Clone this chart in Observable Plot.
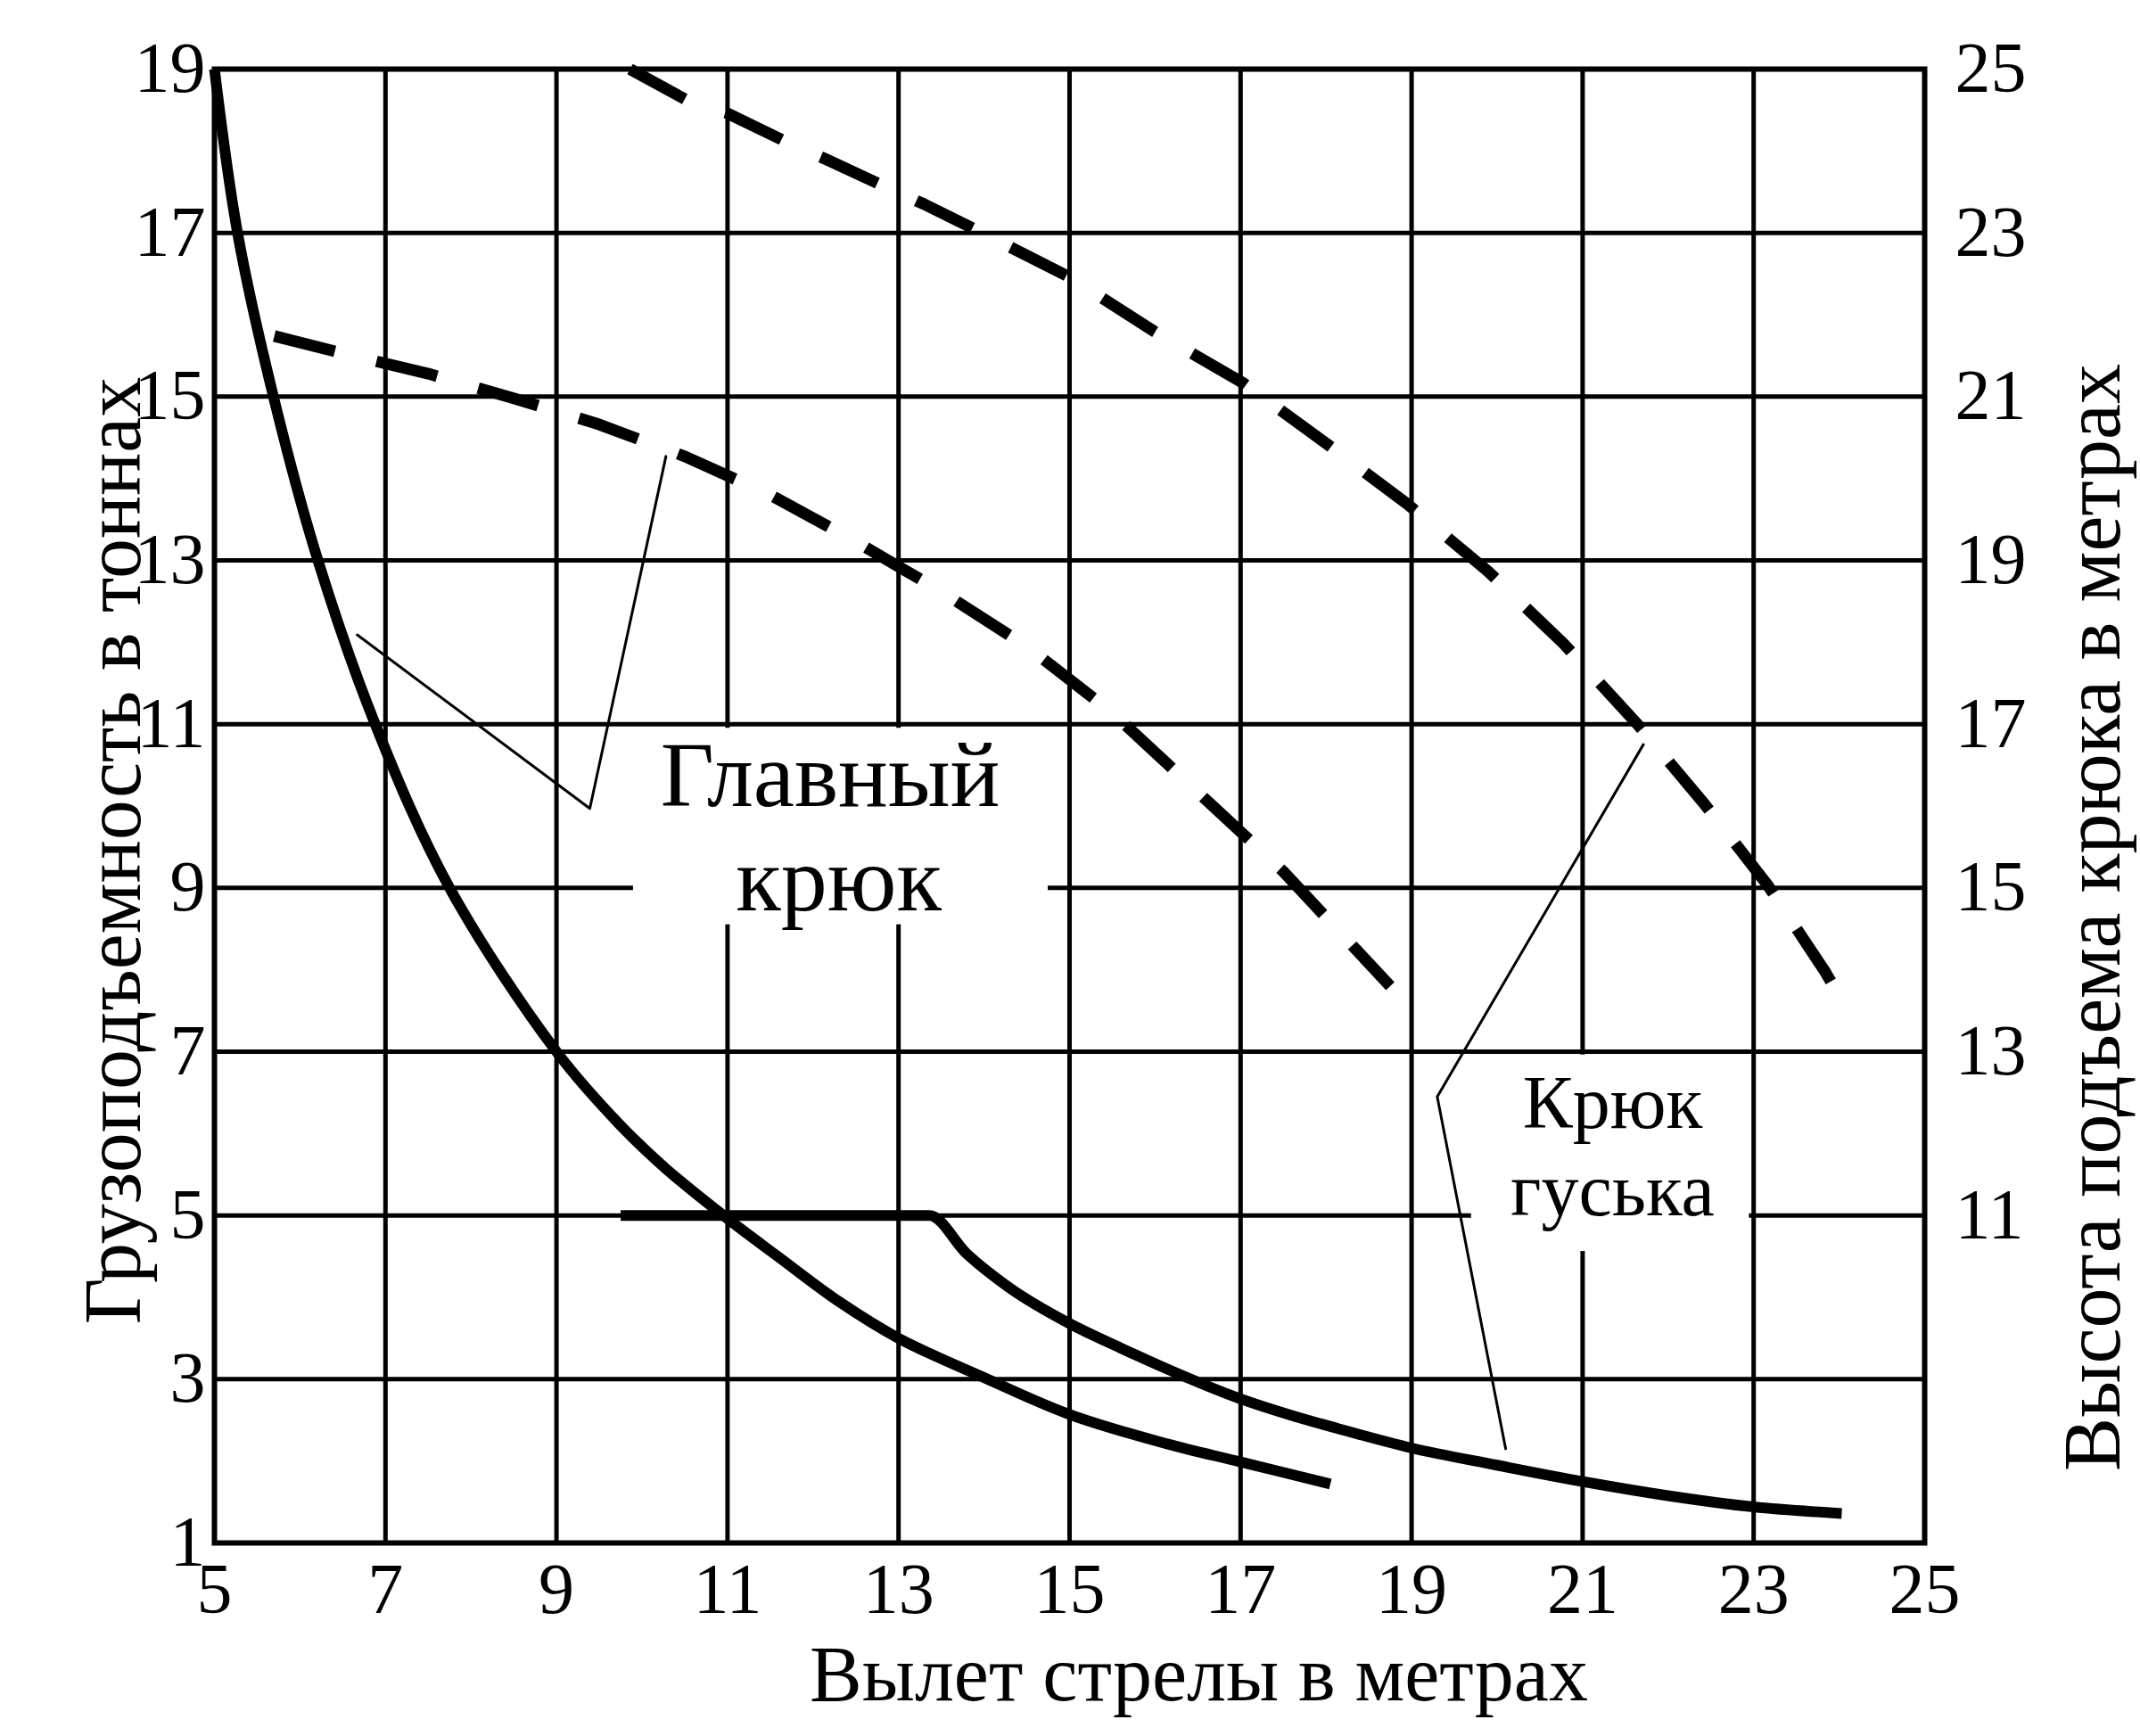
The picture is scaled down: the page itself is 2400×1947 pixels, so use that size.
<!DOCTYPE html>
<html>
<head>
<meta charset="utf-8">
<script src="https://cdn.jsdelivr.net/npm/d3@7"></script>
<script src="https://cdn.jsdelivr.net/npm/@observablehq/plot@0.6"></script>
<style>
  html, body { margin: 0; padding: 0; background: #fff; overflow: hidden; }
  #chart svg { display: block; }
</style>
</head>
<body>
<div id="chart"></div>
<script>
// ---- axes / ticks ----
const xTicks = [5, 7, 9, 11, 13, 15, 17, 19, 21, 23, 25];
const loadTicks = [1, 3, 5, 7, 9, 11, 13, 15, 17, 19];          // left axis, t
const heightTicks = [11, 13, 15, 17, 19, 21, 23, 25];           // right axis, m
const HEIGHT_OFFSET = 6;                                        // right value = left value + 6

const xTitle = "Вылет стрелы в метрах";
const leftTitle = "Грузоподъемность в тоннах";
const rightTitle = "Высота подъема крюка в метрах";

// ---- main hook: load capacity (t) vs reach (m) ----
const mainReach = [5.0, 5.27, 5.69, 6.21, 6.88, 7.75, 9.0, 9.73, 10.27, 11.0, 11.6, 12.3, 13.0, 14.0, 15.0, 16.14, 17.0, 18.05];
const mainLoad  = [19.0, 17.0, 15.0, 13.0, 11.0, 9.0, 7.0, 6.12, 5.58, 4.96, 4.49, 3.95, 3.50, 3.02, 2.57, 2.21, 1.99, 1.72];

// ---- jib (goose) hook: load capacity (t) vs reach (m) ----
const jibReach = [9.75, 13.36, 13.8, 14.28, 15.0, 15.6, 16.24, 17.0, 17.59, 18.13, 19.0, 20.0, 21.0, 21.98, 23.0, 24.03];
const jibLoad  = [5.0, 5.0, 4.53, 4.13, 3.68, 3.38, 3.08, 2.76, 2.56, 2.40, 2.16, 1.95, 1.75, 1.58, 1.44, 1.36];

// ---- main hook: lifting height (m) vs reach (m) ----
const mainHReach = [5.7, 6.5, 7.5, 8.5, 9.5, 10.5, 11.5, 12.5, 13.5, 14.5, 15.5, 16.5, 17.5, 18.75];
const mainHeight = [21.74, 21.53, 21.28, 20.98, 20.66, 20.27, 19.8, 19.23, 18.62, 17.95, 17.14, 16.17, 15.2, 13.8];

// ---- jib hook: lifting height (m) vs reach (m) ----
const jibHReach = [9.86, 10.56, 11.0, 11.69, 12.15, 12.77, 13.3, 13.9, 15.0, 16.0, 17.04, 18.0, 18.96, 19.89, 20.78, 21.64, 22.42, 23.16, 23.84, 24.09];
const jibHeight = [25.0, 24.6, 24.46, 24.11, 23.9, 23.6, 23.35, 23.04, 22.46, 21.79, 21.16, 20.43, 19.68, 18.87, 17.98, 17.0, 16.03, 15.04, 13.97, 13.52];

// ---- annotations (data units: reach, load) ----
const mainLeaderX = [6.67, 9.39, 10.28];
const mainLeaderY = [12.09, 9.97, 14.27];
const jibLeaderX = [21.71, 19.3, 20.1];
const jibLeaderY = [10.75, 6.45, 2.15];

const mainLabelText = ["Главный", "крюк"];
const mainLabelX = [12.2, 12.3];
const mainLabelY = [10.0, 8.73];
const jibLabelText = ["Крюк", "гуська"];
const jibLabelX = [21.35, 21.35];
const jibLabelY = [6.07, 5.0];

// white patches where the grid is interrupted by the labels
const maskX1 = [9.9, 19.7];
const maskX2 = [14.75, 22.95];
const maskY1 = [8.55, 4.56];
const maskY2 = [10.95, 6.96];

// ---- build tables ----
const zipXY = (xs, ys) => xs.map((x, i) => ({x, y: ys[i]}));
const mainRows = zipXY(mainReach, mainLoad);
const jibRows = zipXY(jibReach, jibLoad);
const mainHRows = mainHReach.map((x, i) => ({x, h: mainHeight[i]}));
const jibHRows = jibHReach.map((x, i) => ({x, h: jibHeight[i]}));
const leaderRows = [
  ...mainLeaderX.map((x, i) => ({id: "main", x, y: mainLeaderY[i]})),
  ...jibLeaderX.map((x, i) => ({id: "jib", x, y: jibLeaderY[i]}))
];
const masks = maskX1.map((x1, i) => ({x1, x2: maskX2[i], y1: maskY1[i], y2: maskY2[i]}));
const mainLabels = mainLabelText.map((t, i) => ({t, x: mainLabelX[i], y: mainLabelY[i]}));
const jibLabels = jibLabelText.map((t, i) => ({t, x: jibLabelX[i], y: jibLabelY[i]}));

const FONT = "'Liberation Serif', 'Times New Roman', Times, serif";
const DASH = "70,48";

const chart = Plot.plot({
  width: 2400,
  height: 1947,
  marginLeft: 240,
  marginRight: 242,
  marginTop: 77,
  marginBottom: 217,
  x: {domain: [5, 25], axis: null},
  y: {domain: [1, 19], axis: null},
  style: {fontFamily: FONT, fontSize: "80px", color: "black", background: "white"},
  marks: [
    Plot.gridX(xTicks, {stroke: "black", strokeOpacity: 1, strokeWidth: 5}),
    Plot.gridY(loadTicks, {stroke: "black", strokeOpacity: 1, strokeWidth: 5}),
    Plot.rect(masks, {x1: "x1", x2: "x2", y1: "y1", y2: "y2", fill: "white"}),
    Plot.frame({stroke: "black", strokeWidth: 6}),

    // capacity curves
    Plot.line(mainRows, {x: "x", y: "y", stroke: "black", strokeWidth: 12, curve: "catmull-rom", strokeLinecap: "butt"}),
    Plot.line(jibRows, {x: "x", y: "y", stroke: "black", strokeWidth: 12, curve: "monotone-x", strokeLinecap: "butt"}),

    // lifting height curves (right axis)
    Plot.line(mainHRows, {x: "x", y: d => d.h - HEIGHT_OFFSET, stroke: "black", strokeWidth: 13, strokeDasharray: DASH, strokeLinecap: "butt"}),
    Plot.line(jibHRows, {x: "x", y: d => d.h - HEIGHT_OFFSET, stroke: "black", strokeWidth: 13, strokeDasharray: DASH, strokeLinecap: "butt"}),

    // leader lines
    Plot.line(leaderRows, {x: "x", y: "y", z: "id", stroke: "black", strokeWidth: 3}),

    // labels
    Plot.text(mainLabels, {x: "x", y: "y", text: "t", lineAnchor: "bottom", fontSize: 104, fill: "black"}),
    Plot.text(jibLabels, {x: "x", y: "y", text: "t", lineAnchor: "bottom", fontSize: 84, fill: "black"}),

    // axes
    Plot.axisX(xTicks, {anchor: "bottom", tickSize: 0, tickPadding: 22, label: null, fontSize: 80, tickFormat: d => String(d)}),
    Plot.axisY(loadTicks, {anchor: "left", tickSize: 0, tickPadding: 10, label: null, fontSize: 80, tickFormat: d => String(d)}),
    Plot.axisY(heightTicks.map(h => h - HEIGHT_OFFSET), {anchor: "right", tickSize: 0, tickPadding: 34, label: null, fontSize: 80, tickFormat: d => String(d + HEIGHT_OFFSET)}),

    // axis titles
    Plot.text([xTitle], {text: d => d, frameAnchor: "bottom", dx: 145, dy: 176, lineAnchor: "bottom", fontSize: 88, fill: "black"}),
    Plot.text([leftTitle], {text: d => d, frameAnchor: "left", textAnchor: "middle", lineAnchor: "middle", dx: -112, dy: 50, rotate: -90, fontSize: 90, fill: "black"}),
    Plot.text([rightTitle], {text: d => d, frameAnchor: "right", textAnchor: "middle", lineAnchor: "middle", dx: 190, dy: 125, rotate: -90, fontSize: 90, fill: "black"})
  ]
});

document.getElementById("chart").appendChild(chart);
</script>
</body>
</html>
